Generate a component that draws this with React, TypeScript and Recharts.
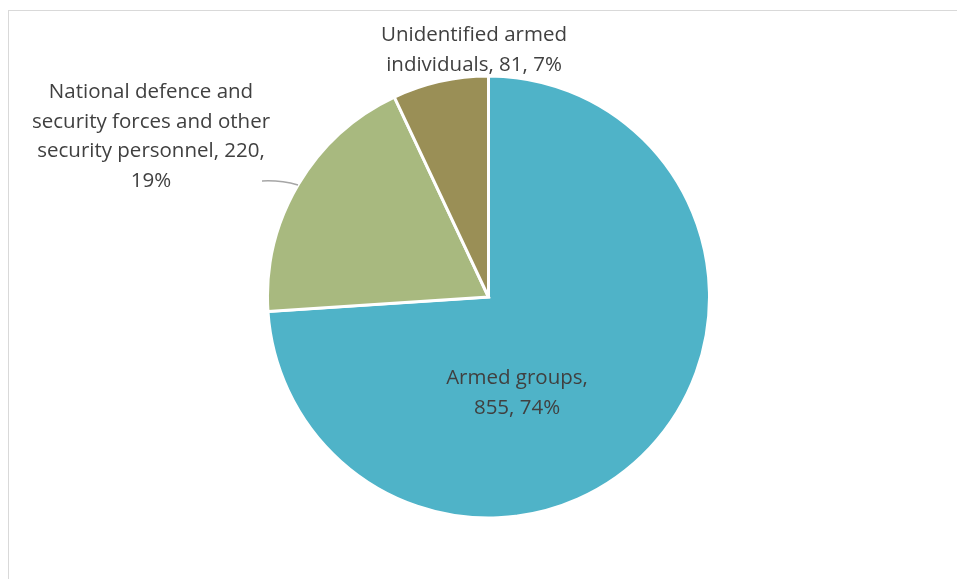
import React from "react";
import { PieChart, Pie, Cell } from "recharts";

const categories = [
  "Armed groups",
  "National defence and security forces and other security personnel",
  "Unidentified armed individuals",
];
const values = [855, 220, 81];
const colors = ["#4FB3C8", "#A8B97F", "#9A8F56"];

// label line breaks per slice (text only)
const labelLines = [
  ["Armed groups,", "{v}, {p}%"],
  ["National defence and", "security forces and other", "security personnel, {v},", "{p}%"],
  ["Unidentified armed", "individuals, {v}, {p}%"],
];

const data = categories.map((name, i) => ({ name, value: values[i] }));

const W = 949;
const H = 563;
const CX = 480.5;
const CY = 289;
const R = 221;

// label anchor (center x, first baseline y) in chart coordinates
const labelPos = [
  { x: 509, y: 376 },
  { x: 143, y: 90 },
  { x: 466, y: 33 },
];
const LINE_H = 29.5;

const renderLabel = (props: any) => {
  const { index, value, percent } = props;
  const pos = labelPos[index];
  const p = Math.round(percent * 100);
  const lines = labelLines[index].map((t) =>
    t.replace("{v}", String(value)).replace("{p}", String(p))
  );
  return (
    <g key={`lbl-${index}`}>
      {index === 1 && (
        <path
          d="M254,173 Q272,172 290,177"
          fill="none"
          stroke="#A6A6A6"
          strokeWidth={1.5}
        />
      )}
      <text
        x={pos.x}
        y={pos.y}
        textAnchor="middle"
        fill="#404040"
        fontFamily="'Open Sans', sans-serif"
        fontSize={20.5}
      >
        {lines.map((l, i) => (
          <tspan key={i} x={pos.x} y={pos.y + i * LINE_H}>
            {l}
          </tspan>
        ))}
      </text>
    </g>
  );
};

export default function App() {
  return (
    <div style={{ position: "relative", width: W, height: H, background: "#fff" }}>
      <div
        style={{
          position: "fixed",
          left: 8,
          top: 10,
          right: 0,
          bottom: 0,
          borderLeft: "1.5px solid #D9D9D9",
          borderTop: "1.5px solid #D9D9D9",
          pointerEvents: "none",
        }}
      />
      <div style={{ position: "absolute", left: 0, top: 0 }}>
        <PieChart width={W} height={H} margin={{ top: 0, right: 0, bottom: 0, left: 0 }}>
          <Pie
            data={data}
            dataKey="value"
            nameKey="name"
            cx={CX}
            cy={CY}
            outerRadius={R}
            startAngle={90}
            endAngle={-270}
            stroke="#FFFFFF"
            strokeWidth={3}
            label={renderLabel}
            labelLine={false}
            isAnimationActive={false}
          >
            {data.map((d, i) => (
              <Cell key={d.name} fill={colors[i]} />
            ))}
          </Pie>
        </PieChart>
      </div>
    </div>
  );
}
